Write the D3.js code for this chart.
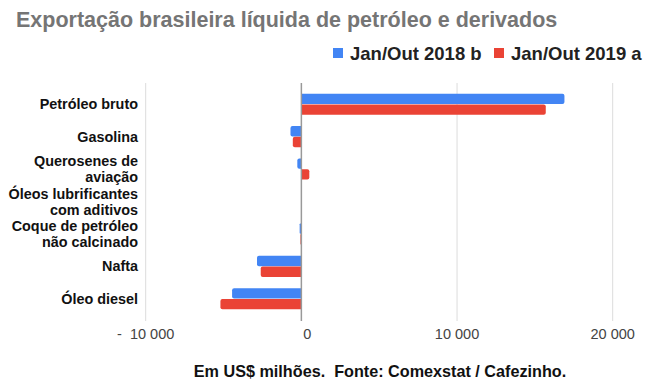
<!DOCTYPE html>
<html><head><meta charset="utf-8">
<script src="https://cdn.jsdelivr.net/npm/d3@7"></script>
<style>
html,body{margin:0;padding:0;background:#fff;}
svg text{font-family:Arial,"Liberation Sans",sans-serif;}
</style></head>
<body>
<svg id="c" width="651" height="392"></svg>
<script>
const categories = [
  ["Petróleo bruto"],
  ["Gasolina"],
  ["Querosenes de","aviação"],
  ["Óleos lubrificantes","com aditivos"],
  ["Coque de petróleo","não calcinado"],
  ["Nafta"],
  ["Óleo diesel"]
];
const seriesNames = ["Jan/Out 2018 b", "Jan/Out 2019 a"];
const values2018 = [16900, -700, -260, 10, -110, -2850, -4450];
const values2019 = [15700, -550, 510, 40, -60, -2610, -5200];
const tickValues = [-10000, 0, 10000, 20000];
const tickLabels = ["-  10 000", "0", "10 000", "20 000"];
const colors = ["#4285F4", "#EA4335"];

const svg = d3.select("#c");
const x = d3.scaleLinear().domain([-10000, 20000]).range([145.7, 612.7]);
const y = d3.scaleBand().domain(d3.range(categories.length)).range([83, 320]).paddingInner(0.35).paddingOuter(0.33);
const sub = d3.scaleBand().domain([0,1]).range([0, y.bandwidth()]).paddingInner(0.04);

// title
svg.append("text").attr("x", 16).attr("y", 27).attr("font-size", 21.5).attr("font-weight", "bold")
  .attr("fill", "#757575").text("Exportação brasileira líquida de petróleo e derivados");

// legend
const legX = [333, 494];
seriesNames.forEach((n, i) => {
  svg.append("rect").attr("x", legX[i]).attr("y", 48).attr("width", 10).attr("height", 10).attr("fill", colors[i]);
  svg.append("text").attr("x", legX[i] + 17).attr("y", 59.5).attr("font-size", 18.5).attr("font-weight", "bold")
    .attr("fill", "#222").text(n);
});

// gridlines
const gTop = 83, gBot = 321;
svg.append("g").selectAll("line").data(tickValues.filter(v => v !== 0)).join("line")
  .attr("x1", d => x(d)).attr("x2", d => x(d)).attr("y1", gTop).attr("y2", gBot)
  .attr("stroke", "#dcdcdc").attr("stroke-width", 1);

// bars
function barPath(v, yTop, h) {
  const x0 = x(0), x1 = x(v), r = Math.min(2, Math.abs(x1 - x0) / 2);
  const s = v >= 0 ? 1 : -1;
  const p = d3.path();
  p.moveTo(x0, yTop);
  p.lineTo(x1 - s * r, yTop);
  p.quadraticCurveTo(x1, yTop, x1, yTop + r);
  p.lineTo(x1, yTop + h - r);
  p.quadraticCurveTo(x1, yTop + h, x1 - s * r, yTop + h);
  p.lineTo(x0, yTop + h);
  p.closePath();
  return p.toString();
}
[values2018, values2019].forEach((vals, si) => {
  svg.append("g").selectAll("path").data(vals).join("path")
    .attr("d", (v, i) => barPath(v, y(i) + sub(si), sub.bandwidth()))
    .attr("fill", colors[si]);
});

// zero line
svg.append("line").attr("x1", x(0)).attr("x2", x(0)).attr("y1", gTop).attr("y2", gBot)
  .attr("stroke", "#999").attr("stroke-width", 1.5);

// category labels
const lab = svg.append("g");
categories.forEach((lines, i) => {
  const cy = y(i) + y.bandwidth() / 2;
  const lh = 16;
  const t = lab.append("text").attr("text-anchor", "end").attr("font-size", 14.4).attr("font-weight", "bold").attr("fill", "#111");
  lines.forEach((ln, k) => {
    t.append("tspan").attr("x", 138).attr("y", cy + 5 + (k - (lines.length - 1) / 2) * lh).text(ln);
  });
});

// x tick labels
svg.append("g").selectAll("text").data(tickValues).join("text")
  .attr("x", d => x(d) + (d === 0 ? 6 : 0)).attr("y", 339).attr("text-anchor", "middle")
  .attr("font-size", 14.5).attr("fill", "#444").text((d, i) => tickLabels[i])
  .style("white-space", "pre");

// footer
svg.append("text").attr("x", 380).attr("y", 377).attr("text-anchor", "middle").attr("font-size", 16.2)
  .attr("font-weight", "bold").attr("fill", "#111").text("Em US$ milhões.  Fonte: Comexstat / Cafezinho.")
  .style("white-space", "pre");
</script>
</body></html>
